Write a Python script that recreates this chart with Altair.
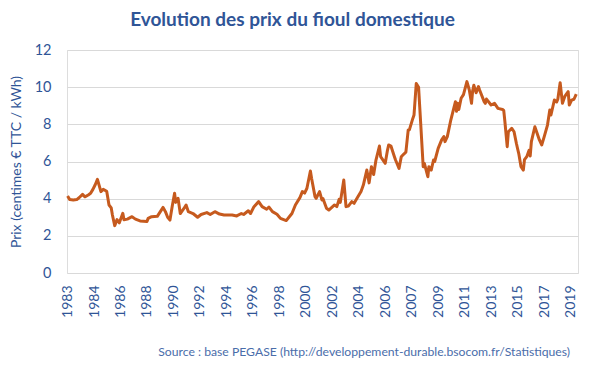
import altair as alt
import pandas as pd

dates = [
    "1983/01/01", "1983/03/01", "1983/06/01", "1983/09/01", "1983/11/01",
    "1984/02/01", "1984/04/01", "1984/07/01", "1984/09/01", "1984/11/01",
    "1985/01/01", "1985/03/01", "1985/06/01", "1985/08/01", "1985/11/01",
    "1986/01/01", "1986/03/01", "1986/04/01", "1986/06/01", "1986/08/01", "1986/10/01",
    "1987/01/01", "1987/02/01", "1987/05/01", "1987/09/01", "1987/12/01",
    "1988/04/01", "1988/10/01", "1988/11/01",
    "1989/02/01", "1989/07/01", "1989/12/01",
    "1990/02/01", "1990/04/01", "1990/06/01", "1990/08/01", "1990/10/01", "1990/11/01",
    "1991/01/01", "1991/03/01", "1991/06/01", "1991/08/01", "1991/10/01",
    "1992/02/01", "1992/06/01", "1992/09/01",
    "1993/02/01", "1993/05/01", "1993/09/01",
    "1994/01/01", "1994/05/01", "1994/12/01",
    "1995/04/01", "1995/08/01", "1995/10/01",
    "1996/02/01", "1996/04/01", "1996/07/01", "1996/11/01",
    "1997/02/01", "1997/06/01", "1997/08/01", "1997/11/01",
    "1998/03/01", "1998/06/01", "1998/11/01",
    "1999/02/01", "1999/04/01", "1999/07/01", "1999/11/01",
    "2000/01/01", "2000/03/01", "2000/05/01", "2000/08/01", "2000/09/01", "2000/12/01",
    "2001/01/01", "2001/04/01", "2001/06/01", "2001/07/01", "2001/10/01", "2001/12/01",
    "2002/05/01", "2002/07/01", "2002/09/01", "2002/10/01",
    "2003/01/01", "2003/03/01", "2003/05/01", "2003/08/01", "2003/10/01",
    "2004/01/01", "2004/04/01", "2004/06/01", "2004/09/01", "2004/11/01",
    "2005/01/01", "2005/03/01", "2005/05/01", "2005/08/01", "2005/09/01",
    "2006/01/01", "2006/03/01", "2006/04/01", "2006/06/01", "2006/09/01", "2006/10/01",
    "2007/01/01", "2007/03/01", "2007/05/01", "2007/07/01", "2007/09/01", "2007/10/01",
    "2008/01/01", "2008/02/01", "2008/04/01", "2008/06/01", "2008/07/01", "2008/08/01",
    "2008/10/01", "2008/11/01",
    "2009/02/01", "2009/03/01", "2009/05/01", "2009/07/01", "2009/08/01", "2009/11/01",
    "2010/02/01", "2010/04/01", "2010/05/01", "2010/07/01", "2010/10/01",
    "2011/02/01", "2011/03/01", "2011/04/01", "2011/05/01", "2011/07/01", "2011/09/01", "2011/12/01",
    "2012/02/01", "2012/04/01", "2012/05/01", "2012/06/01", "2012/08/01", "2012/10/01", "2012/11/01",
    "2013/03/01", "2013/04/01", "2013/05/01", "2013/09/01", "2013/12/01",
    "2014/03/01", "2014/07/01", "2014/08/01", "2014/09/01", "2014/11/01", "2014/12/01",
    "2015/03/01", "2015/05/01", "2015/07/01", "2015/08/01", "2015/09/01", "2015/11/01",
    "2016/01/01", "2016/02/01", "2016/04/01", "2016/06/01", "2016/07/01", "2016/08/01",
    "2016/11/01", "2016/12/01",
    "2017/03/01", "2017/05/01", "2017/07/01", "2017/10/01", "2017/12/01",
    "2018/01/01", "2018/04/01", "2018/06/01", "2018/07/01", "2018/09/01", "2018/11/01",
    "2019/01/01", "2019/04/01", "2019/05/01", "2019/07/01", "2019/09/01", "2019/11/01",
]

prices = [
    4.14, 3.95, 3.93, 3.95, 4.05,
    4.23, 4.10, 4.20, 4.29, 4.50,
    4.75, 5.04, 4.38, 4.50, 4.40,
    3.66, 3.50, 3.12, 2.55, 2.87, 2.70,
    3.21, 2.87, 2.90, 3.03, 2.90,
    2.80, 2.77, 2.94,
    3.03, 3.05, 3.53,
    3.30, 3.00, 2.85, 3.60, 4.29, 3.80,
    4.02, 3.20, 3.46, 3.66, 3.30,
    3.20, 3.00, 3.15,
    3.25, 3.15, 3.30,
    3.17, 3.12, 3.12,
    3.07, 3.20, 3.15,
    3.35, 3.20, 3.57, 3.84,
    3.57, 3.43, 3.55, 3.30,
    3.16, 2.94, 2.82,
    3.05, 3.20, 3.66, 4.07,
    4.38, 4.30, 4.56, 5.49, 5.10, 4.11,
    4.02, 4.38, 3.93, 4.00, 3.48, 3.39,
    3.66, 3.57, 3.97, 3.80,
    5.00, 3.57, 3.60, 3.84, 3.75,
    4.07, 4.38, 4.73, 5.54, 4.85,
    5.72, 5.30, 6.08, 6.83, 6.26,
    5.90, 6.60, 6.89, 6.83, 6.26, 6.08,
    5.63, 6.26, 6.39, 6.50, 7.70, 7.70,
    8.32, 8.50, 10.20, 10.00, 8.95, 7.87,
    5.72, 5.90,
    5.18, 5.72, 5.54, 6.08, 6.00, 6.71,
    7.16, 7.34, 7.07, 7.34, 8.23,
    9.22, 8.70, 9.14, 8.80, 9.40, 9.60, 10.30,
    9.86, 9.13, 9.80, 10.10, 9.70, 10.03, 9.85,
    9.22, 9.13, 9.36, 9.04, 9.13,
    8.86, 8.80, 8.75, 8.14, 6.80, 7.60,
    7.79, 7.60, 6.98, 6.70, 6.44, 5.72,
    5.54, 6.10, 6.26, 6.60, 6.30, 7.07,
    7.87, 7.70,
    7.16, 6.89, 7.30, 7.96, 8.77,
    8.50, 9.31, 9.20, 9.35, 10.24, 9.13,
    9.50, 9.76, 9.04, 9.30, 9.35, 9.63,
]

# Excel category-axis labels (every 23 months)
label_years = [1983, 1984, 1986, 1988, 1990, 1992, 1994, 1996, 1998, 2000,
               2002, 2004, 2006, 2007, 2009, 2011, 2013, 2015, 2017, 2019]
label_months = [1, 12, 11, 10, 9, 8, 7, 6, 5, 4,
                3, 2, 1, 12, 11, 10, 9, 8, 7, 6]

y_ticks = [0, 2, 4, 6, 8, 10, 12]

title_text = "Evolution des prix du fioul domestique"
y_title = "Prix (centimes € TTC / kWh)"
source_text = "Source : base PEGASE (http://developpement-durable.bsocom.fr/Statistiques)"

BLUE = "#2F5597"
FONT = "Lato"

df = pd.DataFrame({"date": dates, "prix": prices})

x_values = [alt.DateTime(year=y, month=m, date=1) for y, m in zip(label_years, label_months)]

line = alt.Chart(df).mark_line(color="#C65A1E", strokeWidth=3, strokeJoin="round").encode(
    x=alt.X(
        "date:T",
        scale=alt.Scale(domain=[alt.DateTime(year=1982, month=12, date=17),
                                alt.DateTime(year=2019, month=12, date=17)]),
        axis=alt.Axis(
            title=None,
            values=x_values,
            format="%Y",
            labelAngle=270,
            labelAlign="right",
            labelBaseline="middle",
            labelPadding=12,
            labelFont=FONT,
            labelFontSize=14,
            labelColor=BLUE,
            labelOverlap=False,
            labelFlush=False,
            grid=False,
            ticks=False,
            domain=False,
        ),
    ),
    y=alt.Y(
        "prix:Q",
        scale=alt.Scale(domain=[0, 12], nice=False),
        axis=alt.Axis(
            title=y_title,
            values=y_ticks,
            labelFont=FONT,
            labelFontSize=14.5,
            labelColor=BLUE,
            labelPadding=16,
            titleFont=FONT,
            titleFontSize=14,
            titleFontWeight="normal",
            titleColor=BLUE,
            titlePadding=11,
            grid=True,
            gridColor="#D9D9D9",
            gridWidth=1.2,
            ticks=False,
            domain=False,
        ),
    ),
)

source = alt.Chart(pd.DataFrame({"t": [source_text]})).mark_text(
    align="right", baseline="middle", font=FONT, fontSize=12.2, color="#4A6DAA"
).encode(
    text="t:N",
    x=alt.value(503),
    y=alt.value(302),
)

chart = alt.layer(line, source).properties(
    width=511,
    height=223,
    padding={"left": 59, "top": 42, "right": 15, "bottom": 85},
    autosize=alt.AutoSizeParams(type="none"),
    title=alt.TitleParams(
        text=title_text,
        font=FONT,
        fontSize=19,
        fontWeight="bold",
        color=BLUE,
        anchor="middle",
        frame="group",
        dx=-30,
        offset=12,
    ),
).configure_view(stroke=None).configure(background="white")

chart.save("out.html", embed_options={"renderer": "svg", "actions": False})
